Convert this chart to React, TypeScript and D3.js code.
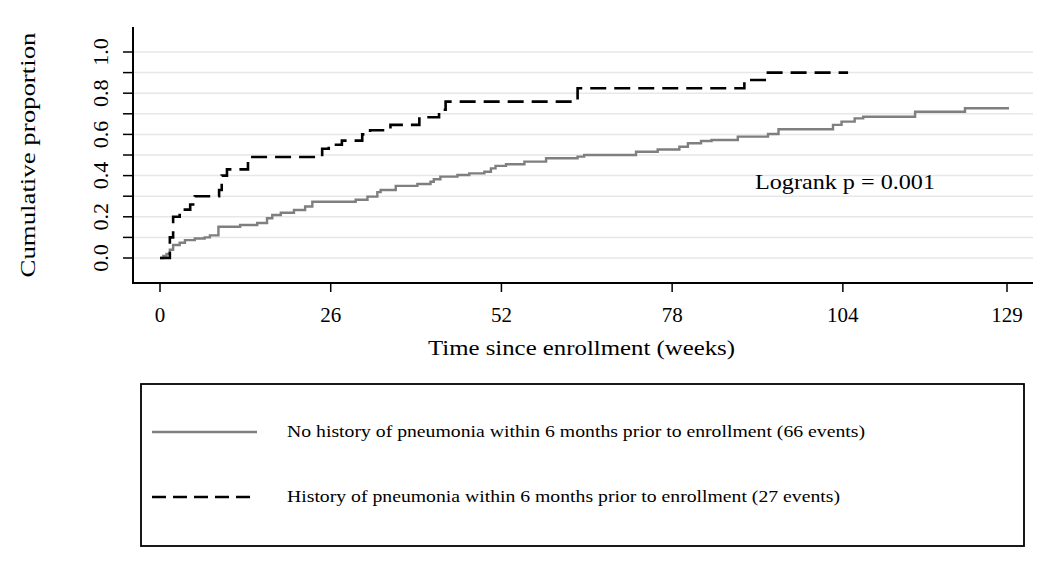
import React from "react";
import * as d3 from "d3";

// ---- data ----
const xTicks = [0, 26, 52, 78, 104, 129];
const yTicks = [0, 0.1, 0.2, 0.3, 0.4, 0.5, 0.6, 0.7, 0.8, 0.9, 1.0];
const yLabelTicks = [0, 0.2, 0.4, 0.6, 0.8, 1.0];

const noHistTime = [0, 0.5, 1.0, 1.5, 2.0, 3.0, 3.8, 5.3, 6.8, 7.6, 8.9, 12.2, 14.8, 16.3, 17.1, 18.4, 20.4, 22.1, 23.2, 29.8, 31.6, 33.1, 33.6, 35.9, 39.2, 41.2, 41.7, 42.7, 45.3, 47.1, 49.4, 50.4, 51.1, 52.7, 55.5, 58.8, 63.6, 64.6, 72.5, 75.8, 79.1, 80.4, 82.4, 84.0, 88.0, 92.6, 94.2, 102.5, 103.8, 105.8, 107.1, 115.0, 122.6, 129.3];
const noHistProp = [0, 0.01, 0.02, 0.04, 0.063, 0.074, 0.087, 0.095, 0.10, 0.11, 0.152, 0.16, 0.17, 0.193, 0.209, 0.22, 0.233, 0.25, 0.273, 0.283, 0.298, 0.32, 0.33, 0.35, 0.359, 0.37, 0.382, 0.395, 0.403, 0.411, 0.419, 0.435, 0.447, 0.455, 0.468, 0.484, 0.492, 0.50, 0.516, 0.527, 0.54, 0.557, 0.568, 0.573, 0.589, 0.602, 0.625, 0.646, 0.662, 0.678, 0.686, 0.71, 0.727, 0.727];

const histTime = [0, 1.5, 2.0, 3.0, 4.6, 5.3, 9.0, 9.4, 10.2, 13.4, 24.7, 25.7, 27.7, 30.8, 32.0, 35.1, 39.5, 42.5, 43.5, 63.6, 89.0, 92.1, 104.8];
const histProp = [0, 0.1, 0.2, 0.235, 0.26, 0.3, 0.33, 0.4, 0.43, 0.49, 0.53, 0.55, 0.57, 0.6, 0.62, 0.646, 0.683, 0.72, 0.759, 0.824, 0.864, 0.90, 0.90];

const legendLabels = [
  "No history of pneumonia within 6 months prior to enrollment (66 events)",
  "History of pneumonia within 6 months prior to enrollment (27 events)",
];
const annotation = "Logrank p = 0.001";
const xTitle = "Time since enrollment (weeks)";
const yTitle = "Cumulative proportion";

const FONT = "'Liberation Serif', 'DejaVu Serif', serif";

export default function App() {
  const x = d3.scaleLinear().domain([0, 129]).range([160, 1007]);
  const y = d3.scaleLinear().domain([0, 1]).range([258, 52]);
  const axisX = 133;
  const axisY = 283;
  const plotRight = 1033;
  const plotTop = 27;

  const line = d3
    .line<[number, number]>()
    .x((d) => x(d[0]))
    .y((d) => y(d[1]))
    .curve(d3.curveStepAfter);

  const noHist: [number, number][] = noHistTime.map((t, i) => [t, noHistProp[i]]);
  const hist: [number, number][] = histTime.map((t, i) => [t, histProp[i]]);

  return (
    <svg
      width={1050}
      height={561}
      style={{ position: "absolute", left: 0, top: 0, background: "#fff" }}
      fontFamily={FONT}
    >
      {/* gridlines */}
      {yTicks.map((t) => (
        <line key={"g" + t} x1={axisX} x2={plotRight} y1={y(t)} y2={y(t)} stroke="#e4e8eb" strokeWidth={1.5} />
      ))}
      {/* y axis */}
      <line x1={axisX} x2={axisX} y1={plotTop} y2={axisY + 1} stroke="#000" strokeWidth={2} />
      {yTicks.map((t) => (
        <line key={"yt" + t} x1={axisX - 10} x2={axisX} y1={y(t)} y2={y(t)} stroke="#000" strokeWidth={1.5} />
      ))}
      {yLabelTicks.map((t) => (
        <text
          key={"yl" + t}
          transform={`translate(100,${y(t)}) rotate(-90)`}
          textAnchor="middle"
          dominantBaseline="central"
          fontSize={22}
        >
          {t.toFixed(1)}
        </text>
      ))}
      <text
        transform={`translate(27,155) rotate(-90)`}
        textAnchor="middle"
        dominantBaseline="central"
        fontSize={22}
        textLength={245}
        lengthAdjust="spacingAndGlyphs"
      >
        {yTitle}
      </text>
      {/* x axis */}
      <line x1={axisX - 1} x2={plotRight} y1={axisY} y2={axisY} stroke="#000" strokeWidth={2} />
      {xTicks.map((t) => (
        <line key={"xt" + t} x1={x(t)} x2={x(t)} y1={axisY} y2={axisY + 9} stroke="#000" strokeWidth={1.5} />
      ))}
      {xTicks.map((t) => (
        <text key={"xl" + t} x={x(t)} y={322} textAnchor="middle" fontSize={21}>
          {t}
        </text>
      ))}
      <text x={428} y={355} fontSize={22} textLength={307} lengthAdjust="spacingAndGlyphs">
        {xTitle}
      </text>
      {/* curves */}
      <path d={line(noHist) || ""} fill="none" stroke="#7f7f7f" strokeWidth={2.4} />
      <path d={line(hist) || ""} fill="none" stroke="#000" strokeWidth={2.6} strokeDasharray="16,8" />
      {/* annotation */}
      <text x={755} y={189} fontSize={21} textLength={180} lengthAdjust="spacingAndGlyphs">
        {annotation}
      </text>
      {/* legend */}
      <rect x={141} y={384} width={883} height={162} fill="none" stroke="#000" strokeWidth={1.8} />
      <line x1={152} x2={257} y1={432} y2={432} stroke="#7f7f7f" strokeWidth={2.4} />
      <line x1={152} x2={257} y1={497} y2={497} stroke="#000" strokeWidth={2.6} strokeDasharray="14,7" />
      <text x={287} y={437} fontSize={17} textLength={578} lengthAdjust="spacingAndGlyphs">
        {legendLabels[0]}
      </text>
      <text x={287} y={502} fontSize={17} textLength={553} lengthAdjust="spacingAndGlyphs">
        {legendLabels[1]}
      </text>
    </svg>
  );
}
